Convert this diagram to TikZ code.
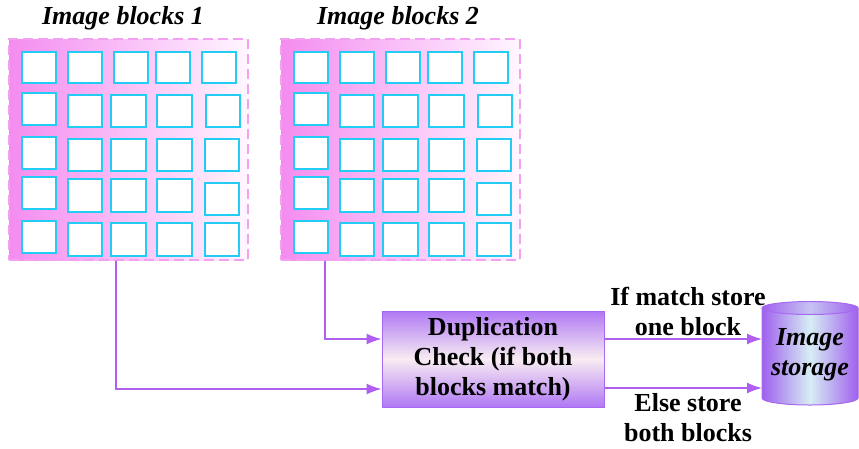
\documentclass[tikz,border=0pt]{standalone}
\usepackage{fontspec}
\setmainfont{Liberation Serif}
\usetikzlibrary{arrows.meta,calc}
\definecolor{panelL}{HTML}{F48CF0}
\definecolor{panelR}{HTML}{FFF6FF}
\definecolor{panelEdge}{HTML}{F2A0F0}
\definecolor{sqc}{HTML}{22CCF2}
\definecolor{boxP}{HTML}{B078F4}
\definecolor{boxM}{HTML}{F8ECF2}
\definecolor{boxEdge}{HTML}{A868F0}
\definecolor{lineP}{HTML}{B060F0}
\definecolor{cylP}{HTML}{A060EE}
\definecolor{cylM}{HTML}{D6EEF4}
\tikzset{
  panel/.style={draw=panelEdge, dash pattern=on 10pt off 5pt, line width=1.6pt,
    left color=panelL, right color=panelR, minimum width=239pt, minimum height=221pt, inner sep=0pt},
  sq/.style={draw=sqc, fill=white, line width=1.8pt},
  title/.style={font=\fontsize{26}{30}\selectfont\bfseries\itshape},
  lbl/.style={font=\fontsize{26}{30}\selectfont\bfseries, align=center},
  dupbox/.style={draw=boxEdge, line width=1pt, top color=boxP, bottom color=boxP, middle color=boxM,
    minimum width=222pt, minimum height=96pt, inner sep=0pt, align=center,
    font=\fontsize{26}{30}\selectfont\bfseries},
  conn/.style={draw=lineP, line width=1.4pt, -{Latex[length=15pt,width=11pt]}},
}
\newcommand{\blockgrid}[1]{%
  \begin{scope}[xshift=#1]
  % row 1
  \draw[sq] (22,51.7) rectangle (55.7,83.3);
  \draw[sq] (68,51.7) rectangle (101.7,83.3);
  \draw[sq] (113.7,51.7) rectangle (147.7,83.3);
  \draw[sq] (155.7,51.7) rectangle (190,83.3);
  \draw[sq] (201.7,51.7) rectangle (235.7,83.3);
  % row 2
  \draw[sq] (22,93.3) rectangle (55.7,125.3);
  \draw[sq] (68,95) rectangle (101.7,127);
  \draw[sq] (111.3,95) rectangle (145.7,127);
  \draw[sq] (157.3,95) rectangle (192,127);
  \draw[sq] (205.7,95) rectangle (239.7,127);
  % row 3
  \draw[sq] (22,137.3) rectangle (55.7,169.3);
  \draw[sq] (68,139) rectangle (101.7,171);
  \draw[sq] (111.3,139) rectangle (145.7,171);
  \draw[sq] (157.3,139) rectangle (192,171);
  \draw[sq] (204.7,139) rectangle (239,171);
  % row 4
  \draw[sq] (22,177.3) rectangle (55.7,209.3);
  \draw[sq] (68,179) rectangle (101.7,211.7);
  \draw[sq] (111.3,179) rectangle (145.7,211.7);
  \draw[sq] (157.3,179) rectangle (192,211.7);
  \draw[sq] (204.7,183) rectangle (239,215.3);
  % row 5
  \draw[sq] (22,221) rectangle (55.7,253.3);
  \draw[sq] (68,223) rectangle (101.7,255.7);
  \draw[sq] (111.3,223) rectangle (145.7,255.7);
  \draw[sq] (157.3,223) rectangle (192,255.7);
  \draw[sq] (204.7,223) rectangle (239,255.7);
  \end{scope}}
\begin{document}
\begin{tikzpicture}[x=1pt,y=-1pt]
\useasboundingbox (0,0) rectangle (859,448);
% titles
\node[title] (t1) at (123,18) {Image blocks 1};
\node[title] (t2) at (398,18) {Image blocks 2};
% panels
\node[panel] (p1) at (128.5,149.5) {};
\node[panel] (p2) at (400.5,149.5) {};
\blockgrid{0}
\blockgrid{272}
% duplication box
\node[dupbox] (dup) at (493,359) {Duplication\\Check (if both\\blocks match)};
% storage cylinder
\coordinate (stor) at (762,353);
\fill[left color=cylP, right color=cylP, middle color=cylM]
  (762,308) -- (762,398) arc[start angle=180, end angle=360, x radius=48, y radius=-7]
  -- (858,308) arc[start angle=0, end angle=180, x radius=48, y radius=6] -- cycle;
\draw[boxEdge, line width=1pt]
  (762,308) -- (762,398) arc[start angle=180, end angle=360, x radius=48, y radius=-7]
  -- (858,308);
\draw[boxEdge, line width=1pt, left color=cylP, right color=cylP, middle color=cylM!70!cylP]
  (810,308) ellipse[x radius=48, y radius=6.5];
\node[title, align=center] (st) at (810,355) {Image\\storage};
% connectors
\draw[conn] ([xshift=-12.5pt]p1.south) |- ([yshift=-30pt]dup.west);
\draw[conn] ([xshift=-75.5pt]p2.south) |- ([yshift=20pt]dup.west);
\draw[conn] ([yshift=20pt]dup.east) -- (stor |- 0,339);
\draw[conn] ([yshift=-29pt]dup.east) -- (stor |- 0,388);
% labels
\node[lbl] (l1) at (688,311) {If match store\\one block};
\node[lbl] (l2) at (688,418) {Else store\\both blocks};
\end{tikzpicture}
\end{document}
